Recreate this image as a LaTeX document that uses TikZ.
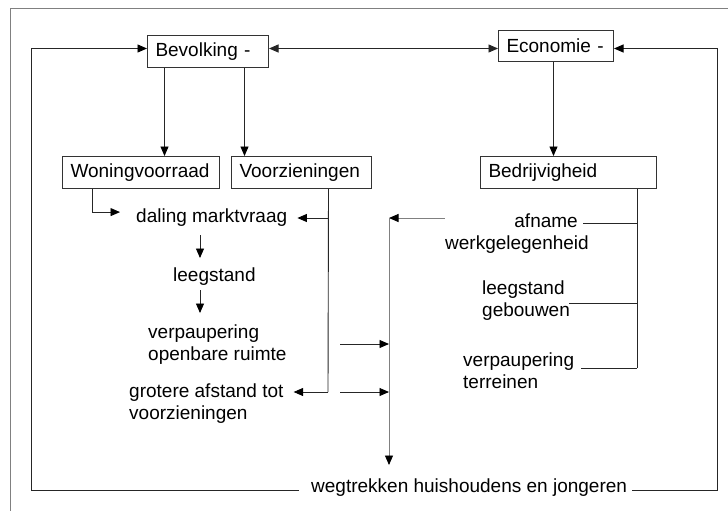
\documentclass[tikz,border=0pt]{standalone}
\usepackage{fontspec}
\setmainfont{Liberation Sans}
\usetikzlibrary{arrows.meta}

\begin{document}
\begin{tikzpicture}[x=1pt,y=-1pt,
    font=\fontsize{19}{22}\selectfont,
    box/.style={draw=black!80, line width=1pt, anchor=north west, align=left,
      inner xsep=8pt, inner ysep=0pt, minimum height=32pt},
    txt/.style={inner sep=0pt, anchor=base west},
    line/.style={draw=black!85, line width=0.9pt},
    arr/.style={line, -{Triangle[length=9.5pt,width=8pt,color=black]}},
    arrb/.style={line, {Triangle[length=9.5pt,width=8pt]}-{Triangle[length=9.5pt,width=8pt]}}]
    \useasboundingbox (0,0) rectangle (728,511);
    \draw[gray, line width=1pt] (10,511) -- (10,9) -- (728,9);

    % the boxes
    \node[box, text width=105pt] (bev) at (147,35) {Bevolking -};
    \node[box, text width=99pt, minimum height=31pt] (eco) at (498,30) {Economie -};
    \node[box, text width=141pt] (won) at (62,156) {Woningvoorraad};
    \node[box, text width=124pt] (voor) at (231,156) {Voorzieningen};
    \node[box, text width=160pt] (bed) at (480,156) {Bedrijvigheid};

    % the texts (base = last line)
    \node[txt] (dal) at (136,222) {daling marktvraag};
    \node[txt] (lee) at (173,281) {leegstand};
    \node[txt, align=left] (ver) at (148,360) {verpaupering\\openbare ruimte};
    \node[txt, align=left] (gro) at (129,419) {grotere afstand tot\\voorzieningen};
    \node[txt, anchor=base east, align=right] (afn) at (589,249) {afname\hspace*{11pt}\\werkgelegenheid};
    \node[txt, align=left] (geb) at (482,316) {leegstand\\gebouwen};
    \node[txt, align=left] (ter) at (463,388) {verpaupering\\terreinen};
    \node[txt] (weg) at (311,492) {wegtrekken huishoudens en jongeren};

    \coordinate (ax) at (200,0);
    \coordinate (lb) at (31,490);
    \coordinate (rb) at (717,490);
    \coordinate (v1) at (328,218);
    \coordinate (v2) at (328,392);
    \coordinate (c0) at (389,218);
    \coordinate (c2) at (389,344);
    \coordinate (c3) at (389,392);
    \coordinate (b1) at (637,223);
    \coordinate (b2) at (637,303);
    \coordinate (b3) at (637,368);

    % top part
    \draw[arrb] ([yshift=3pt]bev.east) -- ([yshift=3pt]bev.east -| eco.west);
    \draw[arr] ([xshift=-43.5pt]bev.south) -- ([xshift=23.5pt]won.north);
    \draw[arr] ([xshift=36.5pt]bev.south) -- ([xshift=-57pt]voor.north);
    \draw[arr] (eco.south -| bed.north) ++(-15,0) -- ([xshift=-15pt]bed.north);

    % loops back
    \draw[arr] ([xshift=-12pt]weg.west |- lb) -- (lb) |- ([yshift=3pt]bev.west);
    \draw[arr] ([xshift=5pt]weg.east |- rb) -- (rb) |- ([yshift=-2.5pt]eco.east);

    % left column
    \draw[arr] ([xshift=-48.5pt]won.south) |- ([xshift=-16pt,yshift=5pt]dal.west);
    \draw[arr] ([yshift=-9pt]dal.south -| ax) -- ([yshift=9pt]lee.north -| ax);
    \draw[arr] ([yshift=-5pt]lee.south -| ax) -- ([yshift=11pt]ver.north -| ax);
    \draw[line] ([xshift=27pt]voor.south) -- (v2);
    \draw[arr] (v1) -- ([xshift=10pt]dal.east |- v1);
    \draw[arr] (v2) -- ([xshift=10pt]gro.east |- v2);

    % collecting line
    \draw[arr, draw=gray] ([xshift=-56pt]afn.west |- c0) ++(56,0) -- (c0);
    \draw[arr, draw=gray] (c0) -- ([yshift=13pt]weg.north -| c0);
    \draw[arr] ([xshift=-49pt]c2) -- (c2);
    \draw[arr] ([xshift=-49pt]c3) -- (c3);

    % bedrijvigheid bracket
    \draw[line] (bed.south -| b1) -- (b3);
    \draw[line] (b1) -- ([xshift=-6pt]afn.east |- b1);
    \draw[line] (b2) -- ([xshift=-1pt]geb.east |- b2);
    \draw[line] (b3) -- ([xshift=7pt]ter.east |- b3);
\end{tikzpicture}
\end{document}
